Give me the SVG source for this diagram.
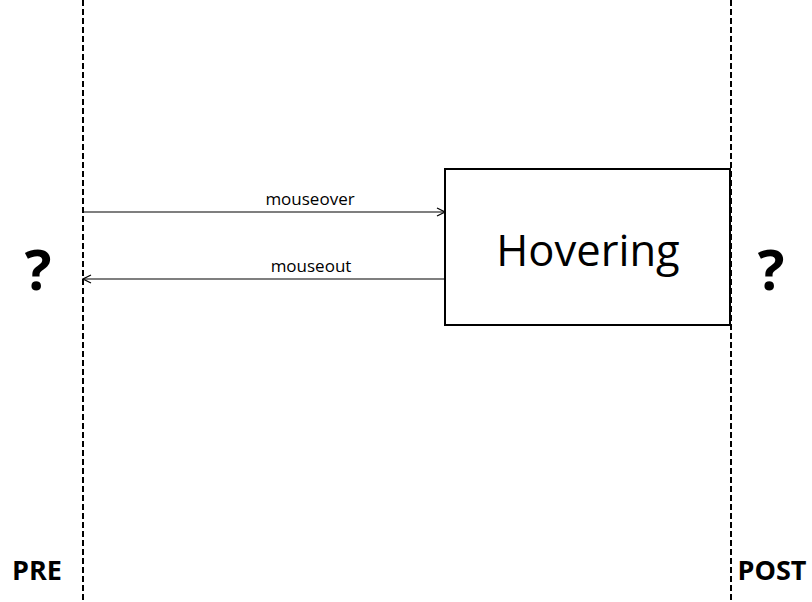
<svg xmlns="http://www.w3.org/2000/svg" width="812" height="602" viewBox="0 0 812 602">
<style>
.lane{stroke:#000;stroke-width:2;stroke-dasharray:6 3;fill:none}
.conn{stroke:#000;stroke-width:1.2;fill:none}
.lbl{font-family:"Open Sans","Noto Sans",sans-serif;font-size:17px;fill:#000;text-anchor:middle}
.big{font-family:"Open Sans","Noto Sans",sans-serif;font-weight:bold;fill:#000;text-anchor:middle}
</style>
<defs>
<marker id="open" markerWidth="10" markerHeight="10" refX="9" refY="5" orient="auto" markerUnits="userSpaceOnUse">
<path d="M1,1 L9,5 L1,9" fill="none" stroke="#000" stroke-width="1.2"/>
</marker>
</defs>
<rect width="812" height="602" fill="#fff"/>
<g id="lanes">
<line class="lane" x1="83" y1="0" x2="83" y2="602"/>
<line class="lane" x1="731" y1="0" x2="731" y2="602"/>
</g>
<g id="hovering">
<rect x="445" y="169" width="285" height="156" fill="#fff" stroke="#000" stroke-width="2"/>
<text x="588" y="266" font-family="'Open Sans','Noto Sans',sans-serif" font-size="43.5" text-anchor="middle">Hovering</text>
</g>
<g id="pre">
<text class="big" x="38" y="290" font-size="56">?</text>
<text class="big" x="37" y="580" font-size="27">PRE</text>
</g>
<g id="post">
<text class="big" x="771" y="290" font-size="56">?</text>
<text class="big" x="772" y="580" font-size="27">POST</text>
</g>
<g id="connectors">
<line class="conn" x1="83" y1="212" x2="445" y2="212" marker-end="url(#open)"/>
<text class="lbl" x="310" y="205">mouseover</text>
<line class="conn" x1="445" y1="279" x2="83" y2="279" marker-end="url(#open)"/>
<text class="lbl" x="311" y="272">mouseout</text>
</g>
</svg>
